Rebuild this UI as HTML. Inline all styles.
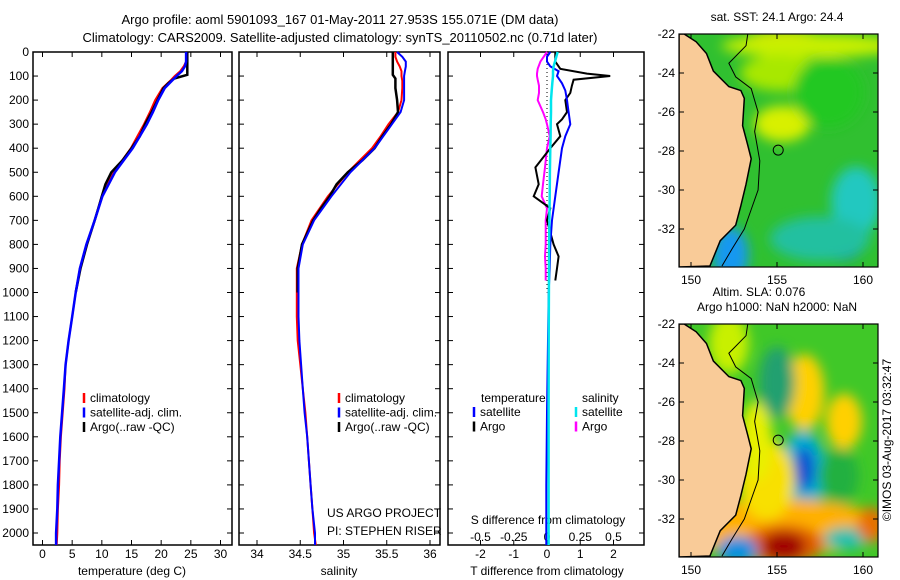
<!DOCTYPE html>
<html><head><meta charset="utf-8">
<style>
body{margin:0;background:#fff;}
svg{display:block;font-family:"Liberation Sans",sans-serif;}
</style></head>
<body>
<svg id="c" width="900" height="580" viewBox="0 0 900 580" xmlns="http://www.w3.org/2000/svg">
<defs>
<filter id="bl" x="-50%" y="-50%" width="200%" height="200%"><feGaussianBlur stdDeviation="6"/></filter>
<clipPath id="m1"><rect x="679" y="34" width="199" height="233"/></clipPath>
<clipPath id="m2"><rect x="679" y="324" width="199" height="233"/></clipPath>
</defs>
<text x="340" y="24" font-size="13" text-anchor="middle">Argo profile: aoml 5901093_167 01-May-2011 27.953S 155.071E (DM data)</text>
<text x="340" y="42" font-size="13" text-anchor="middle">Climatology: CARS2009. Satellite-adjusted climatology: synTS_20110502.nc (0.71d later)</text>
<g id="plots"></g>
<g id="maps"></g>
<text transform="translate(891,440) rotate(-90)" font-size="12" text-anchor="middle">©IMOS 03-Aug-2017 03:32:47</text>
</svg>
<script>
// ---- data ----
const depths=[0,20,40,60,80,100,120,150,200,250,300,350,400,500,600,700,800,900,1000,1100,1200,1300,1400,1500,1600,1700,1800,1900,2000,2050];
const tClim=[24.2,24.2,24.2,23.8,23.2,22.3,21.5,20.2,19.0,18.1,17.1,16.0,14.9,12.0,10.0,8.8,7.4,6.3,5.6,5.0,4.4,3.9,3.7,3.4,3.1,2.9,2.8,2.6,2.5,2.4];
const tSat=[24.2,24.2,24.2,24.0,23.5,22.6,21.8,20.6,19.5,18.6,17.6,16.4,15.2,12.2,10.1,8.8,7.4,6.3,5.6,5.0,4.4,3.9,3.6,3.3,3.0,2.8,2.6,2.5,2.3,2.3];
const argoDepths=[0,40,80,95,110,130,150,200,250,300,350,400,450,500,550,600,650,700,800,900,1000];
const tArgo=[24.4,24.4,24.4,24.4,22.2,21.2,20.4,19.4,18.4,17.3,16.4,15.0,13.5,11.6,10.6,10.0,9.4,8.8,7.5,6.4,5.6];
const sClim=[35.6,35.6,35.62,35.65,35.67,35.67,35.68,35.68,35.67,35.63,35.52,35.43,35.33,35.05,34.82,34.63,34.52,34.46,34.46,34.46,34.47,34.5,34.53,34.56,34.58,34.6,34.62,34.64,34.66,34.68];
const sSat=[35.62,35.68,35.72,35.72,35.71,35.70,35.70,35.70,35.70,35.66,35.56,35.46,35.36,35.08,34.86,34.66,34.53,34.48,34.48,34.48,34.49,34.51,34.53,34.55,34.58,34.6,34.62,34.64,34.67,34.67];
const sArgo=[35.57,35.57,35.57,35.57,35.6,35.6,35.6,35.62,35.63,35.55,35.45,35.36,35.22,35.05,34.92,34.84,34.74,34.65,34.52,34.47,34.47];
const dTDepths=[0,20,40,60,80,100,130,160,200,250,300,350,400,500,600,700,800,900,1000,1200,1500,1800,2050];
const dTSat=[0.1,0.0,0.0,0.1,0.35,0.3,0.45,0.55,0.6,0.65,0.7,0.55,0.45,0.35,0.25,0.15,0.1,0.08,0.05,0.03,0.0,-0.02,-0.02];
const dArgoDepths=[0,40,70,90,100,115,140,170,200,250,280,300,350,400,480,550,600,650,700,800,850,900,950];
const dTArgo=[0.25,0.25,0.4,1.2,1.9,0.8,0.75,0.7,0.55,0.6,0.45,0.3,0.4,0.1,-0.35,-0.25,-0.4,0.1,0.0,0.2,0.35,0.3,0.25];
const dSSat=[0.08,0.07,0.06,0.05,0.045,0.045,0.04,0.035,0.03,0.03,0.028,0.027,0.025,0.022,0.02,0.018,0.016,0.015,0.014,0.013,0.012,0.012,0.012];
const dSArgo=[0.0,-0.05,-0.07,-0.075,-0.075,-0.07,-0.06,-0.06,-0.07,-0.03,-0.01,0.0,0.02,0.0,-0.015,-0.03,-0.04,0.0,-0.01,-0.01,-0.015,-0.01,-0.01];
const depthTicks=[0,100,200,300,400,500,600,700,800,900,1000,1100,1200,1300,1400,1500,1600,1700,1800,1900,2000];
const tTicks=[0,5,10,15,20,25,30];
const sTicks=[34,34.5,35,35.5,36];
const dTTicks=[-2,-1,0,1,2];
const dSTicks=[-0.5,-0.25,0,0.25,0.5];
const latTicks=[-22,-24,-26,-28,-30,-32];
const lonTicks=[150,155,160];
const sst=24.1, argoSst=24.4, sla=0.076;

const NS='http://www.w3.org/2000/svg';
function mk(tag,attrs,parent){const e=document.createElementNS(NS,tag);for(const k in attrs)e.setAttribute(k,attrs[k]);parent.appendChild(e);return e;}
const P=document.getElementById('plots');
const top0=52,bot=545;
const yD=d=>top0+d*(533-top0)/2000;
function lin(d0,d1,p0,p1){return v=>p0+(v-d0)*(p1-p0)/(d1-d0);}
const panels=[{x0:33,x1:232,name:'temperature-panel'},{x0:239,x1:440,name:'salinity-panel'},{x0:448,x1:644,name:'difference-panel'}];
const xT=lin(0,30,42.5,220.5), xS=lin(34,36,257,430), xdT=lin(0,2,547,613.5), xdS=lin(0,0.5,547,613.5);

panels.forEach((p,i)=>{
  const g=mk('g',{},P);
  
  
  const r=mk('rect',{x:p.x0,y:top0,width:p.x1-p.x0,height:bot-top0,fill:'none',stroke:'#000','stroke-width':1.5},g);
  
  
  depthTicks.forEach(d=>{
    mk('line',{x1:p.x0,x2:p.x0+5,y1:yD(d),y2:yD(d),stroke:'#000'},g);
    mk('line',{x1:p.x1,x2:p.x1-5,y1:yD(d),y2:yD(d),stroke:'#000'},g);
  });
});
depthTicks.forEach(d=>{
  const t=mk('text',{x:29,y:yD(d)+4,'font-size':12,'text-anchor':'end'},P);t.textContent=d;
  
  
});
function xticks(ticks,sc,p,labels,yl){
  ticks.forEach(v=>{
    const x=sc(v);
    mk('line',{x1:x,x2:x,y1:top0,y2:top0+5,stroke:'#000'},P);
    mk('line',{x1:x,x2:x,y1:bot,y2:bot-5,stroke:'#000'},P);
    if(labels){const t=mk('text',{x:x,y:yl,'font-size':12,'text-anchor':'middle'},P);t.textContent=v;
      
      }
  });
}
xticks(tTicks,xT,panels[0],true,558);
xticks(sTicks,xS,panels[1],true,558);
xticks(dTTicks,xdT,panels[2],true,558);
function label(txt,x,y,name,size,anchor){const t=mk('text',{x:x,y:y,'font-size':size||12,'text-anchor':anchor||'middle'},P);t.textContent=txt;
  
  return t;}
label('temperature (deg C)',132,575,'x-axis-title-temperature');
label('salinity',339,575,'x-axis-title-salinity');
label('T difference from climatology',547,575,'x-axis-title-t-difference');
label('S difference from climatology',548,524,'s-axis-title');
dSTicks.forEach(v=>{label(String(v),xdS(v),541,'s-tick-label');});
label('US ARGO PROJECT',327,517,'project-label',12,'start');
label('PI: STEPHEN RISER',327,535,'pi-label',12,'start');

function line(xs,ds,sc,color,name,w){
  const pts=xs.map((v,i)=>sc(v).toFixed(1)+','+yD(ds[i]).toFixed(1)).join(' ');
  const e=mk('polyline',{points:pts,fill:'none',stroke:color,'stroke-width':w||2,'stroke-linejoin':'miter'},P);
  
  
}
const zl=mk('line',{x1:547,x2:547,y1:top0,y2:yD(1000),stroke:'#000','stroke-dasharray':'1,3'},P);


line(tClim,depths,xT,'#ff0000','temp-climatology-line');
line(tArgo,argoDepths,xT,'#000','temp-argo-line',2.5);
line(tSat,depths,xT,'#0000ff','temp-satellite-line',2.5);
line(sClim,depths,xS,'#ff0000','sal-climatology-line');
line(sArgo,argoDepths,xS,'#000','sal-argo-line',2.5);
line(sSat,depths,xS,'#0000ff','sal-satellite-line',2);
line(dSArgo,dArgoDepths,xdS,'#ff00ff','s-diff-argo-line');
line(dTArgo,dArgoDepths,xdT,'#000','t-diff-argo-line',2);
line(dTSat,dTDepths,xdT,'#0000ff','t-diff-satellite-line',2);
line(dSSat,dTDepths,xdS,'#00e5ee','s-diff-satellite-line',2.5);

function legend(x,y,items,name){
  items.forEach((it,i)=>{
    const yy=y+i*14.5;
    const m=mk('line',{x1:x,x2:x,y1:yy-9,y2:yy+1,stroke:it[1],'stroke-width':2.5},P);
    
    
    label(it[0],x+6,yy,name+'-label',12,'start');
  });
}
legend(84,402,[['climatology','#f00'],['satellite-adj. clim.','#00f'],['Argo(..raw -QC)','#000']],'legend-temp');
legend(339,402,[['climatology','#f00'],['satellite-adj. clim.','#00f'],['Argo(..raw -QC)','#000']],'legend-sal');
label('temperature',481,402,'legend-diff-temperature-header',12,'start');
label('salinity',582,402,'legend-diff-salinity-header',12,'start');
legend(474,416,[['satellite','#00f'],['Argo','#000']],'legend-diff-t');
legend(576,416,[['satellite','#00e5ee'],['Argo','#ff00ff']],'legend-diff-s');

// ---- maps ----
const M=document.getElementById('maps');
const lonX=lon=>691+(lon-150)*17.2;
const coast=[[149.6,-22],[150.3,-22.4],[150.9,-23],[151.3,-23.9],[152.2,-24.7],[152.9,-24.9],[153.1,-25.3],[153.0,-26.7],[153.3,-27.7],[153.5,-28.4],[153.2,-29.7],[152.9,-30.8],[152.6,-31.8],[151.7,-32.6],[151.1,-33.9]];
const shelf=[[153.3,-22],[153.2,-22.6],[152.2,-23.5],[152.6,-24.2],[153.5,-24.8],[153.9,-26],[153.7,-27],[154.0,-28.5],[153.9,-30],[153.5,-31],[153.1,-32],[152.4,-33],[151.8,-33.9]];
const sstBlobs=[[155.5,-22.5,45,14,'#f0d800'],[157,-22.6,90,12,'#c8f000'],[155.2,-24,40,18,'#a8e800'],[155.3,-26.6,28,18,'#d8f000'],[158.5,-32.9,26,14,'#1060e0'],[159.6,-30.6,25,35,'#20c8c0'],[152.3,-33.3,18,28,'#1898f0'],[157.5,-32.5,50,22,'#20c0a0'],[158,-25,35,35,'#20c820']];
const slaBlobs=[[156.6,-25.5,20,38,'#ffd000'],[158.9,-27,18,28,'#ffd000'],[156.5,-29.6,22,42,'#00b0d0'],[156.6,-29.4,10,22,'#1050d0'],[155,-32.4,110,28,'#ffb000'],[155.4,-33.3,40,20,'#e06000'],[155.4,-33.4,22,14,'#a00000'],[154.4,-30,28,40,'#f8e000'],[153.8,-28,16,40,'#e8f000'],[159,-33,22,11,'#20c0b0'],[155,-25,18,36,'#20a070'],[152.7,-33.6,20,14,'#1090e0'],[160.5,-32.3,14,18,'#e87000'],[158.6,-29.8,20,28,'#20b040'],[152.2,-23,20,30,'#c8f000']];
function drawMap(top,clip,base,blobs,title,name){
  const latY=lat=>top+(-22-lat)*19.5;
  const g=mk('g',{'clip-path':'url(#'+clip+')'},M);
  
  
  mk('rect',{x:679,y:top,width:199,height:233,fill:base},g);
  const bg=mk('g',{filter:'url(#bl)'},g);
  blobs.forEach(b=>{const e=mk('ellipse',{cx:lonX(b[0]),cy:latY(b[1]),rx:b[2],ry:b[3],fill:b[4]},bg);
    
    });
  const land=coast.map(c=>lonX(c[0])+','+latY(c[1])).join(' ');
  const l=mk('polygon',{points:'679,'+top+' '+land+' 679,'+(top+233),fill:'#f9cb98',stroke:'#000','stroke-width':1.5},g);
  
  
  const s=mk('polyline',{points:shelf.map(c=>lonX(c[0])+','+latY(c[1])).join(' '),fill:'none',stroke:'#000','stroke-width':1},g);
  
  
  const c=mk('circle',{cx:lonX(155.071),cy:latY(-27.953),r:5,fill:'none',stroke:'#000'},g);
  
  
  const f=mk('rect',{x:679,y:top,width:199,height:233,fill:'none',stroke:'#000','stroke-width':1.2},M);
  
  
  latTicks.forEach(v=>{const y=latY(v);
    mk('line',{x1:679,x2:684,y1:y,y2:y,stroke:'#000'},M);mk('line',{x1:878,x2:873,y1:y,y2:y,stroke:'#000'},M);
    const t=mk('text',{x:675,y:y+4,'font-size':12,'text-anchor':'end'},M);t.textContent=v;
    
    });
  lonTicks.forEach(v=>{const x=lonX(v);
    mk('line',{x1:x,x2:x,y1:top,y2:top+5,stroke:'#000'},M);mk('line',{x1:x,x2:x,y1:top+233,y2:top+228,stroke:'#000'},M);
    const t=mk('text',{x:x,y:top+250,'font-size':12,'text-anchor':'middle'},M);t.textContent=v;
    
    });
  title.forEach((tt,i)=>{const t=mk('text',{x:tt[1],y:top-(title.length-i)*15+2,'font-size':12,'text-anchor':'middle'},M);t.textContent=tt[0];
    
    });
}
drawMap(34,'m1','#30c030',sstBlobs,[['sat. SST: '+sst+' Argo: '+argoSst,777]],'sst-map');
drawMap(324,'m2','#40c828',slaBlobs,[['Altim. SLA: '+sla,759],['Argo h1000: NaN h2000: NaN',777]],'sla-map');
</script>
</body></html>
